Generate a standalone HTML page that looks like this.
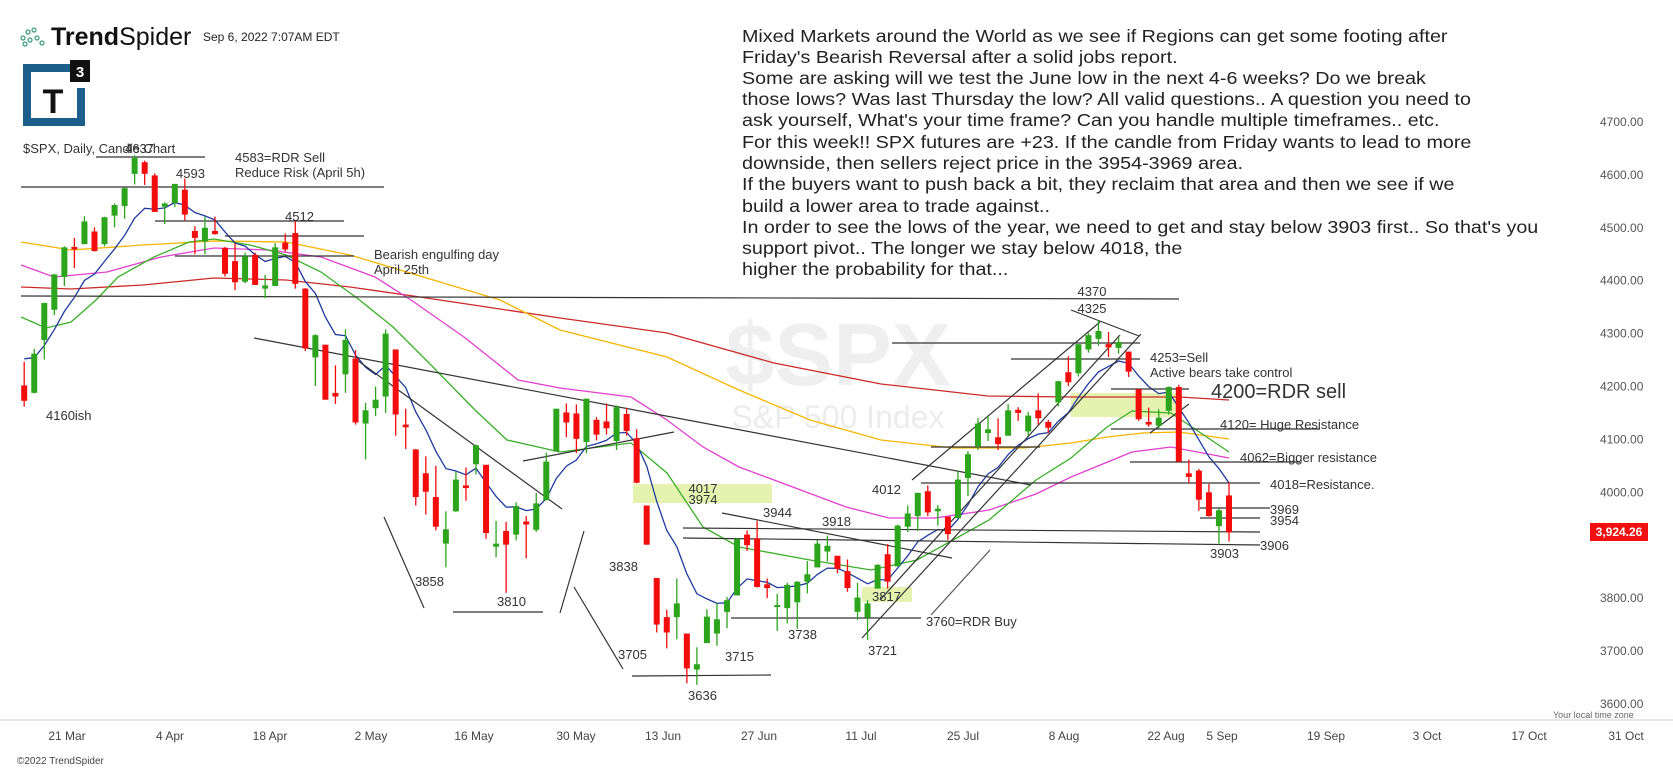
<!DOCTYPE html>
<html><head><meta charset="utf-8">
<style>
html,body{margin:0;padding:0;background:#fff;}
body{width:1673px;height:770px;overflow:hidden;position:relative;font-family:"Liberation Sans",sans-serif;}
svg{position:absolute;left:0;top:0;}
</style></head>
<body>
<svg id="c" width="1673" height="770" xmlns="http://www.w3.org/2000/svg" font-family="Liberation Sans, DejaVu Sans, sans-serif">
<text x="838" y="385" font-size="88" font-weight="bold" fill="#efefef" text-anchor="middle">$SPX</text>
<text x="838" y="428" font-size="32" fill="#ececec" text-anchor="middle">S&amp;P 500 Index</text>
<rect x="633" y="484" width="139" height="19" fill="#e6f3b0"/>
<rect x="862" y="587" width="50" height="15" fill="#e6f3b0"/>
<rect x="1071" y="393" width="109" height="24" fill="#e6f3b0"/>
<g id="ma" fill="none" stroke-width="1.3"></g>
<g id="ann" stroke="#333" stroke-width="1.2" fill="none"></g>
<g id="cnd"></g>
<g font-size="13" fill="#333">
<text x="23" y="153">$SPX, Daily, Candle Chart</text>
<text x="125" y="153">4637</text>
<text x="176" y="178">4593</text>
<text x="235" y="162">4583=RDR Sell</text>
<text x="235" y="177">Reduce Risk (April 5h)</text>
<text x="285" y="221">4512</text>
<text x="374" y="259">Bearish engulfing day</text>
<text x="374" y="274">April 25th</text>
<text x="46" y="420">4160ish</text>
<text x="415" y="586">3858</text>
<text x="497" y="606">3810</text>
<text x="609" y="571">3838</text>
<text x="618" y="659">3705</text>
<text x="688" y="700">3636</text>
<text x="725" y="661">3715</text>
<text x="788" y="639">3738</text>
<text x="868" y="655">3721</text>
<text x="926" y="626">3760=RDR Buy</text>
<text x="872" y="601">3817</text>
<text x="763" y="517">3944</text>
<text x="822" y="526">3918</text>
<text x="872" y="494">4012</text>
<text x="703" y="493" text-anchor="middle">4017</text>
<text x="703" y="504" text-anchor="middle">3974</text>
<text x="1092" y="296" text-anchor="middle">4370</text>
<text x="1092" y="313" text-anchor="middle">4325</text>
<text x="1150" y="362">4253=Sell</text>
<text x="1150" y="377">Active bears take control</text>
<text x="1211" y="398" font-size="20">4200=RDR sell</text>
<text x="1220" y="429">4120= Huge Resistance</text>
<text x="1240" y="462">4062=Bigger resistance</text>
<text x="1270" y="489">4018=Resistance.</text>
<text x="1270" y="514">3969</text>
<text x="1270" y="525">3954</text>
<text x="1260" y="550">3906</text>
<text x="1210" y="558">3903</text>
</g>
<g id="yax" font-size="12" fill="#555"></g>
<rect x="1590" y="523" width="58" height="18" fill="#f01010"/>
<text x="1619" y="536" font-size="12" fill="#fff" text-anchor="middle" font-weight="bold">3,924.26</text>
<line x1="0" y1="720" x2="1673" y2="720" stroke="#ccc"/>
<g id="xax" font-size="12" fill="#444" text-anchor="middle"></g>
<text x="1553" y="718" font-size="9" fill="#666">Your local time zone</text>
<text x="17" y="764" font-size="10" fill="#444">©2022 TrendSpider</text>
<g fill="none" stroke="#3a9a7a" stroke-width="1.2">
<circle cx="23" cy="38" r="2"/><circle cx="28" cy="32" r="2"/><circle cx="34" cy="30" r="2"/><circle cx="30" cy="40" r="2"/><circle cx="37" cy="38" r="2"/><circle cx="25" cy="44" r="2"/><circle cx="42" cy="43" r="2"/>
</g>
<text x="51" y="45" font-size="25" fill="#111"><tspan font-weight="bold">Trend</tspan>Spider</text>
<text x="203" y="41" font-size="12" fill="#222">Sep 6, 2022 7:07AM EDT</text>
<path d="M23 64 H70 V72 H31 V118 H77 V88 H85 V126 H23 Z" fill="#1d5f8a"/>
<rect x="70" y="60" width="20" height="22" fill="#111"/>
<text x="80" y="77" font-size="15" fill="#fff" font-weight="bold" text-anchor="middle">3</text>
<text x="53" y="113" font-size="34" fill="#111" font-weight="bold" text-anchor="middle">T</text>
<g font-size="18" fill="#222" transform="translate(742,0) scale(1.096,1) translate(-742,0)">
<text x="742" y="42">Mixed Markets around the World as we see if Regions can get some footing after</text>
<text x="742" y="63">Friday's Bearish Reversal after a solid jobs report.</text>
<text x="742" y="84">Some are asking will we test the June low in the next 4-6 weeks? Do we break</text>
<text x="742" y="105">those lows? Was last Thursday the low? All valid questions.. A question you need to</text>
<text x="742" y="126">ask yourself, What's your time frame? Can you handle multiple timeframes.. etc.</text>
<text x="742" y="148">For this week!! SPX futures are +23. If the candle from Friday wants to lead to more</text>
<text x="742" y="169">downside, then sellers reject price in the 3954-3969 area.</text>
<text x="742" y="190">If the buyers want to push back a bit, they reclaim that area and then we see if we</text>
<text x="742" y="212">build a lower area to trade against..</text>
<text x="742" y="233">In order to see the lows of the year, we need to get and stay below 3903 first.. So that's you</text>
<text x="742" y="254">support pivot.. The longer we stay below 4018, the</text>
<text x="742" y="275">higher the probability for that...</text>
</g>
</svg>
<script>
(function(){
var NS="http://www.w3.org/2000/svg";
function el(p,t,a){var e=document.createElementNS(NS,t);for(var k in a)e.setAttribute(k,a[k]);p.appendChild(e);return e;}
function Y(p){return 122+(4700-p)*0.529;}
function X(i){return 1229-(115-i)*10.04;}
var D=[[4202,4247,4162,4173],[4188,4271,4187,4262],[4288,4358,4251,4358],[4345,4412,4335,4412],[4407,4465,4390,4463],
[4462,4481,4424,4461],[4469,4522,4469,4512],[4493,4501,4455,4456],[4469,4521,4465,4520],[4523,4546,4501,4543],[4541,4576,4517,4575],[4602,4637,4582,4632],[4624,4627,4581,4602],[4599,4603,4530,4530],[4540,4548,4507,4546],
[4547,4583,4539,4583],[4572,4593,4514,4525],[4494,4503,4450,4481],[4474,4521,4450,4500],[4494,4521,4487,4488],[4462,4464,4408,4413],[4437,4471,4382,4397],[4398,4453,4395,4446],[4449,4453,4392,4392],
[4385,4411,4367,4391],[4390,4471,4390,4463],[4472,4489,4455,4459],[4490,4513,4385,4394],[4385,4386,4267,4272],[4255,4299,4201,4297],[4279,4279,4175,4175],[4186,4240,4167,4183],[4223,4308,4188,4288],[4253,4269,4128,4132],
[4130,4169,4062,4155],[4159,4200,4144,4175],[4181,4308,4150,4300],[4270,4270,4107,4147],[4128,4158,4082,4123],[4081,4082,3975,3991],[4036,4068,3958,4001],[3991,4050,3928,3935],[3903,3964,3858,3930],[3964,4039,3963,4024],
[4013,4047,3984,4008],[4053,4090,4034,4089],[4052,4052,3912,3923],[3899,3946,3877,3901],[3927,3944,3810,3901],[3920,3981,3909,3974],[3943,3955,3875,3941],[3929,3999,3925,3979],[3985,4075,3985,4058],[4077,4158,4077,4158],
[4151,4168,4104,4132],[4149,4166,4074,4101],[4095,4177,4074,4177],[4137,4142,4098,4109],[4134,4168,4109,4121],[4097,4164,4080,4161],[4148,4160,4107,4116],[4102,4119,4017,4018],[3975,3975,3901,3901],
[3838,3838,3735,3750],[3764,3778,3705,3735],[3764,3837,3722,3790],[3733,3733,3639,3667],[3665,3707,3636,3675],[3715,3779,3715,3765],[3733,3790,3710,3760],[3774,3802,3743,3796],[3805,3913,3805,3912],
[3920,3928,3889,3900],[3913,3946,3820,3821],[3826,3837,3800,3819],[3785,3808,3738,3785],[3781,3829,3752,3825],[3792,3832,3742,3831],[3831,3870,3809,3845],[3858,3910,3858,3903],[3888,3918,3869,3899],
[3880,3880,3847,3855],[3851,3873,3812,3819],[3774,3829,3759,3801],[3763,3796,3721,3790],[3818,3864,3818,3863],[3883,3902,3818,3831],[3860,3939,3860,3937],[3935,3975,3925,3960],[3955,3999,3927,3999],[4002,4013,3955,3962],
[3966,3976,3937,3967],[3954,3954,3910,3921],[3951,4040,3951,4024],[4027,4078,3993,4072],[4087,4140,4080,4130],[4112,4144,4097,4119],[4104,4140,4080,4091],[4107,4167,4107,4155],[4154,4161,4135,4152],[4115,4152,4107,4145],
[4155,4187,4128,4140],[4133,4137,4112,4122],[4170,4211,4162,4210],[4227,4257,4201,4208],[4225,4280,4219,4280],[4270,4301,4264,4297],[4290,4325,4277,4305],[4280,4303,4256,4274],[4273,4293,4262,4284],[4266,4266,4218,4228],
[4195,4195,4135,4138],[4133,4160,4124,4128],[4126,4157,4121,4141],[4154,4200,4147,4199],[4199,4203,4057,4058],[4034,4062,4017,4031],[4041,4044,3965,3986],[4000,4016,3954,3955],[3936,3970,3903,3966],[3994,4019,3907,3924]];
var ma=document.getElementById('ma');
function pl(pts,col){el(ma,'polyline',{points:pts.map(function(p){return p.join(',')}).join(' '),stroke:col});}
pl([[21,287],[71,289],[143,285],[214,278],[286,280],[350,287],[420,297],[500,309],[560,318],[667,333],[774,363],[881,384],[988,396],[1071,397],[1179,397],[1229,400]],'#cc2a2a');
pl([[21,242],[71,250],[143,245],[214,241],[286,242],[350,255],[400,270],[450,285],[500,300],[560,330],[667,357],[739,390],[810,420],[881,440],[953,448],[1024,448],[1071,443],[1107,437],[1143,433],[1179,432],[1229,439]],'#f7b500');
pl([[21,265],[54,277],[107,272],[161,257],[214,248],[268,250],[321,257],[375,277],[411,300],[464,337],[518,380],[560,388],[631,397],[667,420],[703,447],[739,467],[774,480],[846,507],[889,518],[935,518],[989,510],[1036,494],[1071,477],[1132,452],[1171,447],[1229,458]],'#e23fcf');
pl([[21,317],[46,328],[71,322],[96,300],[118,277],[154,257],[189,242],[214,239],[250,245],[286,255],[321,272],[357,298],[393,327],[429,363],[475,410],[507,440],[560,452],[631,443],[667,473],[703,527],[739,547],[810,560],[871,570],[917,560],[989,520],[1036,480],[1071,458],[1107,427],[1132,411],[1171,413],[1229,452]],'#3cae2a');
var e=4275,k=2/9,bp=[];
for(var i=0;i<D.length;i++){e=D[i][3]*k+e*(1-k);bp.push([X(i-5).toFixed(1),Y(e).toFixed(1)]);}
pl(bp,'#1f3a9e');
var an=document.getElementById('ann');
var L=[[96,157,205,157],[21,187,384,187],[155,221,344,221],[225,236,364,236],[175,256,354,256],[21,296,1179,299],
[254,338,1031,485],[357,360,562,509],[523,461,674,432],[384,517,424,608],[560,613,584,531],[574,587,623,669],
[453,612,543,612],[632,676,771,675],[722,513,952,558],[683,528,1260,532],[683,538,1260,545],[731,618,921,618],
[921,483,1260,483],[931,447,1040,447],[892,343,1140,343],[1011,359,1140,359],[1111,389,1189,389],[1111,429,1320,429],
[1130,462,1300,462],[1200,508,1270,508],[1200,518,1260,518],[1071,310,1139,336],[912,480,1100,322],[862,638,1141,334],
[931,615,990,550],[1150,433,1189,404],[880,600,1120,335]];
L.forEach(function(l){el(an,'line',{x1:l[0],y1:l[1],x2:l[2],y2:l[3],stroke:(l[0]>880&&l[0]<935&&l[1]>590)?'#555':'#333'});});
var cg=document.getElementById('cnd');
for(var i=0;i<D.length;i++){var d=D[i],x=X(i-5),up=d[3]>=d[0],c=up?'#2ca51c':'#f20c0c';
el(cg,'line',{x1:x,x2:x,y1:Y(d[1]),y2:Y(d[2]),stroke:c,'stroke-width':1.3});
var t=Y(Math.max(d[0],d[3])),b=Y(Math.min(d[0],d[3]));if(b-t<2){t-=1;b+=1;}
el(cg,'rect',{x:x-3,y:t,width:6,height:b-t,fill:c});}
var ya=document.getElementById('yax');
for(var p=4700;p>=3600;p-=100){if(p==3900)continue;var t=el(ya,'text',{x:1600,y:Y(p)+4});t.textContent=p.toFixed(2);}
var xa=document.getElementById('xax');
[['21 Mar',67],['4 Apr',170],['18 Apr',270],['2 May',371],['16 May',474],['30 May',576],['13 Jun',663],['27 Jun',759],['11 Jul',861],['25 Jul',963],['8 Aug',1064],['22 Aug',1166],['5 Sep',1222],['19 Sep',1326],['3 Oct',1427],['17 Oct',1529],['31 Oct',1626]].forEach(function(a){var t=el(xa,'text',{x:a[1],y:740});t.textContent=a[0];});
})();
</script>
</body></html>
